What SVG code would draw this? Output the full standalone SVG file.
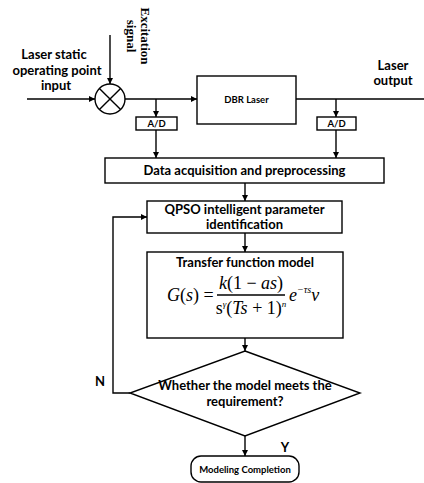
<svg xmlns="http://www.w3.org/2000/svg" width="424" height="483" viewBox="0 0 424 483">
  <defs>
    <marker id="arrow" viewBox="0 0 10 10" refX="10" refY="5" markerWidth="6" markerHeight="6" markerUnits="userSpaceOnUse" orient="auto">
      <path d="M0,0 L10,5 L0,10 z" fill="#000"/>
    </marker>
    <style>
      .box { fill: #fff; stroke: #000; stroke-width: 1.4; }
      .line { fill: none; stroke: #000; stroke-width: 1.4; }
      .arr { fill: none; stroke: #000; stroke-width: 1.4; marker-end: url(#arrow); }
      .lbl { font-family: Lato, "Liberation Sans", sans-serif; font-weight: 700; fill: #000; text-anchor: middle; }
      .big { font-size: 13px; }
      .small { font-size: 9.5px; }
      .serif { font-family: "Liberation Serif", "Times New Roman", serif; font-weight: 700; font-size: 13px; text-anchor: middle; fill: #000; }
      .math { font-family: "Liberation Serif", "Times New Roman", serif; font-size: 18px; fill: #000; }
      .it { font-style: italic; }
    </style>
  </defs>

  <!-- connectors -->
  <g id="connectors">
    <line class="arr" x1="27" y1="99" x2="95" y2="99"/>
    <line class="arr" x1="110" y1="35" x2="110" y2="84"/>
    <line class="arr" x1="125" y1="99" x2="197" y2="99"/>
    <line class="arr" x1="156" y1="99" x2="156" y2="117"/>
    <line class="arr" x1="156" y1="130" x2="156" y2="158"/>
    <line class="line" x1="296" y1="99" x2="424" y2="99"/>
    <line class="arr" x1="336" y1="99" x2="336" y2="117"/>
    <line class="arr" x1="336" y1="130" x2="336" y2="158"/>
    <line class="arr" x1="245" y1="183" x2="245" y2="201"/>
    <line class="arr" x1="245" y1="233" x2="245" y2="252"/>
    <line class="arr" x1="245" y1="338" x2="245" y2="351"/>
    <line class="arr" x1="245" y1="436" x2="245" y2="456"/>
    <polyline class="arr" points="130,393 113,393 113,217 147,217"/>
    <text class="lbl big" x="100" y="386">N</text>
    <text class="lbl big" x="285" y="452">Y</text>
  </g>

  <!-- input labels -->
  <g id="input-label">
    <text class="lbl big" x="54" y="59">Laser static</text>
    <text class="lbl big" x="57" y="75">operating point</text>
    <text class="lbl big" x="56" y="90">input</text>
  </g>
  <g id="excitation-label">
    <text class="serif" transform="translate(141,36) rotate(90)">Excitation</text>
    <text class="serif" transform="translate(127,36) rotate(90)">signal</text>
  </g>
  <g id="output-label">
    <text class="lbl big" x="393" y="70">Laser</text>
    <text class="lbl big" x="393" y="85">output</text>
  </g>

  <!-- summing junction -->
  <g id="mixer">
    <circle class="box" cx="110" cy="99" r="15"/>
    <line class="line" x1="99.4" y1="88.4" x2="120.6" y2="109.6"/>
    <line class="line" x1="120.6" y1="88.4" x2="99.4" y2="109.6"/>
  </g>

  <g id="dbr-laser">
    <rect class="box" x="197" y="76" width="99" height="48"/>
    <text class="lbl small" x="246.5" y="103">DBR Laser</text>
  </g>

  <g id="ad-left">
    <rect class="box" x="136" y="117" width="41" height="13"/>
    <text class="lbl small" x="156.5" y="127">A/D</text>
  </g>
  <g id="ad-right">
    <rect class="box" x="317" y="117" width="39" height="13"/>
    <text class="lbl small" x="336.5" y="127">A/D</text>
  </g>

  <g id="data-acquisition">
    <rect class="box" x="105" y="158" width="279" height="25"/>
    <text class="lbl big" x="244.5" y="175">Data acquisition and preprocessing</text>
  </g>

  <g id="qpso">
    <rect class="box" x="147" y="201" width="195" height="32"/>
    <text class="lbl big" x="244.5" y="214">QPSO intelligent parameter</text>
    <text class="lbl big" x="244.5" y="229">identification</text>
  </g>

  <g id="transfer-function">
    <rect class="box" x="147" y="252" width="196" height="86"/>
    <text class="lbl big" x="245" y="267">Transfer function model</text>
    <text class="math" x="167" y="301"><tspan class="it">G</tspan>(<tspan class="it">s</tspan>) =</text>
    <text class="math" x="251" y="289" text-anchor="middle"><tspan class="it">k</tspan>(1 − <tspan class="it">as</tspan>)</text>
    <line class="line" x1="217" y1="295" x2="285" y2="295" stroke-width="1"/>
    <text class="math" x="251" y="314" text-anchor="middle">s<tspan class="it" font-size="9" dy="-7">γ</tspan><tspan dy="7">(</tspan><tspan class="it">Ts</tspan> + 1)<tspan class="it" font-size="9" dy="-7">n</tspan></text>
    <text class="math" x="289" y="301"><tspan class="it">e</tspan><tspan class="it" font-size="10" dy="-8">−τs</tspan><tspan class="it" dy="8">v</tspan></text>
  </g>

  <g id="decision">
    <polygon class="box" points="245,351 360,393 245,436 130,393"/>
    <text class="lbl big" x="245" y="390">Whether the model meets the</text>
    <text class="lbl big" x="245" y="406">requirement?</text>
  </g>

  <g id="completion">
    <rect class="box" x="191" y="456" width="108" height="26" rx="10"/>
    <text class="lbl small" x="245" y="473">Modeling Completion</text>
  </g>
</svg>
